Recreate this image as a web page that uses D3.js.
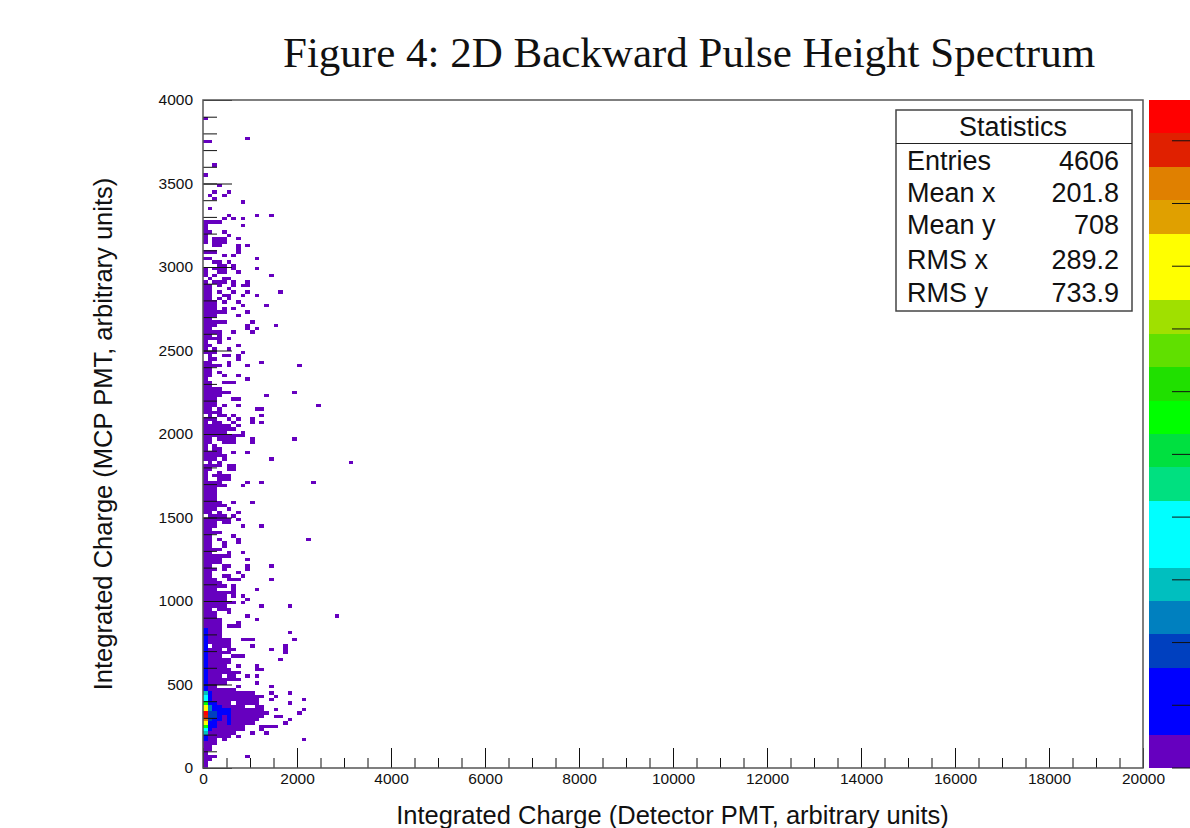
<!DOCTYPE html>
<html>
<head>
<meta charset="utf-8">
<script src="https://cdn.jsdelivr.net/npm/d3@7"></script>
<style>
  html, body { margin: 0; background: #fff; overflow: hidden; }
  text { font-family: "Liberation Sans", Arial, sans-serif; fill: #111; }
</style>
</head>
<body>
<div id="chart"></div>
<script>
// Bin sizes of the histogram, in charge units
const xBinSize = 100;
const yBinSize = 20;

// Occupied x bins for each y bin, index 0 is the lowest row. "0-2 9" = bins 0,1,2 and 9
const rowBins = [
  "0", "0", "0-1", "0-2 9", "0", "0-1", "0-1", "0-2", "0-2 4 21", "0-5 7",
  "0-6 10 13", "0-8 12", "0-8 12-15", "0-10 17", "0-11 18", "0-12 15-16", "0-13 20", "0-12 15 21", "0-8 11-12", "0-5 7-11 18",
  "0-8 9-11 14 21", "0-9 10-12 15", "0-8 9-10 14 18", "0-6", "0-2 7 14", "0-4 11", "0-7", "0-3 5-6 9 11", "0-7", "0-5 11-12",
  "0-4 7 11", "0-5", "0-5 16", "0-3 6-8", "0-5 17", "0-3 5-6 14 17", "0 2-5 10 17", "0-5", "0-5 8-10 19", "0-3",
  "0-3 18", "0-3", "0-3 5-7", "0-3 7", "0-3 11", "0-2 9 28", "0-2 5", "0-1 3-5", "0-4 12 18", "0-6 8",
  "0-4 9", "0-4 6 8", "0-2 3-6", "0-2 6 11", "0-4 6", "0-3", "0-2 5-7 14", "0-1 4-5 8", "0-1 7", "0-2 4 9",
  "0-1 4-5 9 14", "0-3", "0-3 9", "0-5", "0-1 5 8", "0-3", "0-1 4", "0-1 4 7", "0-1 3 7 22", "0-1 6",
  "0-3", "0-1", "0-2 8 12", "0-2 4-5", "0-5 7", "1-4 6", "0-1 3 7", "0-2 5", "0-4", "0-3 6 10",
  "0-2", "0-2", "0-2", "0-2", "0-4 8", "0-3 9 12 23", "0 3-5", "0 2-5", "0 3", "0-1 5-6",
  "0-3 5-6", "1 3 31", "0-2 4 14", "0-4", "0-3 6 9", "0 2-3", "0 2", "0-1 4-6 10", "0-1 3-6 10 19", "0-8",
  "0-4 8", "0-6", "0-5 7", "0 2-3 6 10 12", "0-2 5 7 10", "1 3-4 6 12", "0-3", "0-1 3 11-12", "0-2 4 7 24", "0-2",
  "0-2 6-7", "0-3 13", "0-5 19", "0-3", "0-1", "0-1 4-6", "0 9", "0-1 4 7", "0-1 3", "0-1",
  "0-3 5 9 20", "0-1 5 12", "1-2 7", "1 4-5 7", "0-2 8", "0 2 5", "0-1 7", "0 3", "0-3 5", "0-1 3",
  "0-3 6 10", "0-1 9 11", "0-2 9 15", "0-4 10", "0-1", "0-2 7", "0-4 9", "0-2 4 6", "0-2 8 13", "0-2 4 7",
  "0-1 3 5", "0-1 4-5 8 11", "0-1 3 6 9 16", "0-1 5", "0-1 3 6 8-9", "0 2-4 6 9", "1 4-5", "0 2 14", "0 3-4 7", "0 2-4 6 11",
  "3-4 6", "2-3 5", "0-1 11", "4 6", "0-2 7", "7", "2-3 7 9", "0 2-4", "0 2-4 7", "0 5",
  "0-1 4", "0", "0 8", "0-3", "4 6 8", "5 11 14", "", "1", "", "8",
  "2", "1 4", "5 2", "", "3", "", "", "0", "", "",
  "2", "", "", "", "", "", "", "0-1", "9", "",
  "", "", "", "", "0", "", "", "", "", ""
];

// Cells above the lowest colour step: [x bin, y bin, colour step]
const peakCells = [
  [0, 41, 1], [0, 40, 1], [0, 39, 1], [0, 38, 1], [0, 37, 1], [0, 36, 1], [0, 35, 1], [0, 34, 1],
  [0, 33, 1], [0, 32, 1], [0, 31, 1], [0, 30, 1], [0, 29, 1], [0, 28, 1], [0, 27, 1], [0, 26, 1],
  [0, 25, 1], [0, 24, 1], [0, 23, 1], [0, 22, 5], [0, 21, 6], [0, 20, 7], [0, 19, 10], [0, 18, 14],
  [0, 17, 15], [0, 16, 19], [0, 15, 18], [0, 14, 17], [0, 13, 14], [0, 12, 10], [0, 11, 6], [0, 10, 5],
  [0, 9, 1], [0, 8, 1],
  [1, 22, 1], [1, 21, 1], [1, 20, 1], [1, 19, 2], [1, 18, 4], [1, 17, 4], [1, 16, 3], [1, 15, 3],
  [1, 14, 3], [1, 13, 1], [1, 12, 1], [1, 11, 1],
  [2, 19, 1], [2, 18, 1], [2, 17, 1], [2, 16, 3], [2, 15, 3], [2, 14, 1], [2, 13, 1], [2, 12, 1],
  [3, 18, 1], [3, 17, 1], [3, 16, 1], [3, 15, 1], [3, 14, 1],
  [4, 17, 1], [4, 16, 1],
  [5, 17, 1], [5, 16, 1], [5, 15, 1], [5, 14, 1], [5, 13, 1]
];

// Colour steps of the palette, bottom to top
const paletteColors = [
  "#6600bf", "#0000ff", "#0000ff", "#0040bf", "#0080bf", "#00bfbf", "#00ffff", "#00ffff", "#00e080", "#00e040",
  "#00ff00", "#20e000", "#60e000", "#a0e000", "#ffff00", "#ffff00", "#e0a000", "#e08000", "#e02000", "#ff0000"
];
const paletteTicks = [0, 1, 2, 3, 4, 5, 6, 7, 8, 9, 10];
const paletteMax = 10.65;

const xMajorTicks = [0, 2000, 4000, 6000, 8000, 10000, 12000, 14000, 16000, 18000, 20000];
const yMajorTicks = [0, 500, 1000, 1500, 2000, 2500, 3000, 3500, 4000];

const statNames = ["Entries", "Mean x", "Mean y", "RMS x", "RMS y"];
const statValues = ["4606", "201.8", "708", "289.2", "733.9"];
const statBaselines = [170, 202, 234, 269, 302];

const svg = d3.select("#chart").append("svg")
  .attr("width", 1190)
  .attr("height", 828);

const x = d3.scaleLinear().domain([0, 20000]).range([203, 1143]);
const y = d3.scaleLinear().domain([0, 4000]).range([768, 100]);

// Expand the row strings into cells
const peakLookup = new Map(peakCells.map(c => [c[0] + "," + c[1], c[2]]));
const cells = [];
rowBins.forEach((row, yBin) => {
  row.split(" ").filter(s => s).forEach(run => {
    const parts = run.split("-").map(Number);
    d3.range(parts[0], parts[parts.length - 1] + 1).forEach(xBin => {
      cells.push({ xBin, yBin, step: peakLookup.get(xBin + "," + yBin) || 0 });
    });
  });
});

svg.append("g").selectAll("rect")
  .data(cells)
  .enter()
  .append("rect")
  .attr("x", d => x(d.xBin * xBinSize))
  .attr("y", d => y((d.yBin + 1) * yBinSize))
  .attr("width", x(xBinSize) - x(0))
  .attr("height", y(0) - y(yBinSize))
  .attr("fill", d => paletteColors[d.step])
  .attr("shape-rendering", "crispEdges");

// Axes, ticks point into the frame
function styleAxis(g) {
  g.select(".domain").remove();
  g.selectAll("line").attr("stroke", "#111").attr("stroke-width", 1);
  g.selectAll("text").style("font-size", "15.5px").attr("fill", "#222");
}

svg.append("g")
  .attr("transform", "translate(0,768)")
  .call(d3.axisBottom(x).tickValues(d3.range(0, 20001, 500)).tickSize(-10).tickFormat(""))
  .call(styleAxis);
svg.append("g")
  .attr("transform", "translate(0,768)")
  .call(d3.axisBottom(x).tickValues(xMajorTicks).tickSize(-20).tickPadding(5).tickFormat(d3.format("d")))
  .call(styleAxis);
svg.append("g")
  .attr("transform", "translate(203,0)")
  .call(d3.axisLeft(y).tickValues(d3.range(0, 4001, 100)).tickSize(-14).tickFormat(""))
  .call(styleAxis);
svg.append("g")
  .attr("transform", "translate(203,0)")
  .call(d3.axisLeft(y).tickValues(yMajorTicks).tickSize(-29).tickPadding(10).tickFormat(d3.format("d")))
  .call(styleAxis);

// Frame
svg.append("rect")
  .attr("x", x(0))
  .attr("y", y(4000))
  .attr("width", x(20000) - x(0))
  .attr("height", y(0) - y(4000))
  .attr("fill", "none")
  .attr("stroke", "#555")
  .attr("stroke-width", 1.5);

// Palette on the right edge, its labels fall outside the picture
const stepScale = d3.scaleLinear().domain([0, paletteColors.length]).range([768, 100]);
const zScale = d3.scaleLinear().domain([0, paletteMax]).range([768, 100]);

svg.append("g").selectAll("rect")
  .data(paletteColors)
  .enter()
  .append("rect")
  .attr("x", 1149)
  .attr("y", (d, i) => stepScale(i + 1))
  .attr("width", 41)
  .attr("height", stepScale(0) - stepScale(1))
  .attr("fill", d => d)
  .attr("shape-rendering", "crispEdges");

svg.append("g").selectAll("line")
  .data(paletteTicks)
  .enter()
  .append("line")
  .attr("x1", 1172)
  .attr("x2", 1190)
  .attr("y1", d => zScale(d))
  .attr("y2", d => zScale(d))
  .attr("stroke", "#111")
  .attr("stroke-width", 1);

// Statistics box
const stats = svg.append("g");
stats.append("rect")
  .attr("x", 896).attr("y", 110)
  .attr("width", 236).attr("height", 201)
  .attr("fill", "#fff")
  .attr("stroke", "#444")
  .attr("stroke-width", 1.5);
stats.append("line")
  .attr("x1", 896).attr("x2", 1132)
  .attr("y1", 143.5).attr("y2", 143.5)
  .attr("stroke", "#222");
stats.append("text")
  .attr("x", 1013).attr("y", 136)
  .attr("text-anchor", "middle")
  .style("font-size", "27px")
  .text("Statistics");
stats.selectAll(".stat-name")
  .data(statNames)
  .enter()
  .append("text")
  .attr("class", "stat-name")
  .attr("x", 907)
  .attr("y", (d, i) => statBaselines[i])
  .style("font-size", "27px")
  .text(d => d);
stats.selectAll(".stat-value")
  .data(statValues)
  .enter()
  .append("text")
  .attr("class", "stat-value")
  .attr("x", 1119)
  .attr("y", (d, i) => statBaselines[i])
  .attr("text-anchor", "end")
  .style("font-size", "27px")
  .text(d => d);

// Titles
svg.append("text")
  .attr("x", 283).attr("y", 67)
  .style("font-family", "'Liberation Serif', 'Times New Roman', serif")
  .style("font-size", "43px")
  .text("Figure 4: 2D Backward Pulse Height Spectrum");

svg.append("text")
  .attr("x", 672.5).attr("y", 824)
  .attr("text-anchor", "middle")
  .style("font-size", "25.5px")
  .text("Integrated Charge (Detector PMT, arbitrary units)");

svg.append("text")
  .attr("transform", "translate(112,434) rotate(-90)")
  .attr("text-anchor", "middle")
  .style("font-size", "25.5px")
  .text("Integrated Charge (MCP PMT, arbitrary units)");
</script>
</body>
</html>
